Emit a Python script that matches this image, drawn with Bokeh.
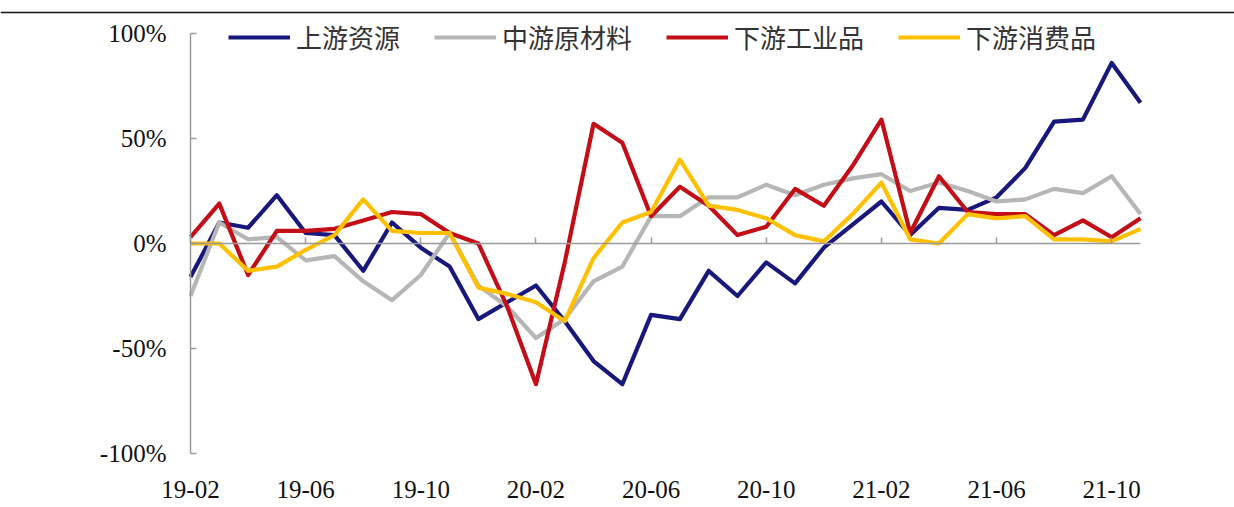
from bokeh.plotting import figure
from bokeh.models import (FixedTicker, LinearAxis, Range1d, Legend, LegendItem,
                          Span, CustomJSTickFormatter)
from bokeh.embed import file_html
from bokeh.resources import INLINE

months = ["19-02", "19-03", "19-04", "19-05", "19-06", "19-07", "19-08", "19-09",
          "19-10", "19-11", "19-12", "20-01", "20-02", "20-03", "20-04", "20-05",
          "20-06", "20-07", "20-08", "20-09", "20-10", "20-11", "20-12", "21-01",
          "21-02", "21-03", "21-04", "21-05", "21-06", "21-07", "21-08", "21-09",
          "21-10", "21-11"]

series_names = ["上游资源", "中游原材料", "下游工业品", "下游消费品"]

upstream = [-16, 10, 7.5, 23, 5, 4, -13, 10, -2, -11, -36, -28, -20, -37, -56, -67,
            -34, -36, -13, -25, -9, -19, -2, 9, 20, 4, 17, 16, 22, 36, 58, 59, 86, 67]
midstream = [-25, 10, 2, 3, -8, -6, -18, -27, -15, 5, -20, -30, -45, -36, -18, -11,
             13, 13, 22, 22, 28, 23, 28, 31, 33, 25, 29, 25, 20, 21, 26, 24, 32, 14]
down_ind = [3, 19, -15, 6, 6, 7, 11, 15, 14, 5, 0, -30, -67, -9, 57, 48,
            13, 27, 18, 4, 8, 26, 18, 37, 59, 5, 32, 15, 14, 14, 4, 11, 3, 12]
down_con = [0, 0, -13, -11, -3, 4, 21, 6, 5, 5, -21, -24, -28, -37, -7, 10,
            15, 40, 18, 16, 12, 4, 1, 14, 29, 2, 0, 14, 12, 13, 2, 2, 1, 7]

y_ticks = [-100, -50, 0, 50, 100]
y_tick_labels = ["-100%", "-50%", "0%", "50%", "100%"]

colors = ["#17177c", "#b6b6b6", "#c30d17", "#ffc000"]

idx = list(range(len(months)))
x_tick_idx = idx[::4]

# layout in canvas pixels (canvas == frame)
W, H = 1234, 507
X0_PX, X1_PX = 190, 1140      # first / last month
YT_PX, YB_PX = 33, 453        # 100% / -100%
n = len(months) - 1
ppx = (X1_PX - X0_PX) / n
ppy = (YB_PX - YT_PX) / 200.0
x_start = -X0_PX / ppx
x_end = n + (W - X1_PX) / ppx
y_end = 100 + YT_PX / ppy
y_start = -100 - (H - YB_PX) / ppy
rule_y = 100 + (YT_PX - 12) / ppy

p = figure(width=W, height=H, output_backend="svg", toolbar_location=None,
           x_range=Range1d(x_start, x_end), y_range=Range1d(y_start, y_end),
           min_border_left=0, min_border_right=0, min_border_top=0,
           min_border_bottom=0, x_axis_location=None, y_axis_location=None)
p.outline_line_color = None
p.background_fill_color = "white"
p.border_fill_color = "white"
p.xgrid.visible = False
p.ygrid.visible = False

font_num = "Liberation Serif"

# bottom label axis (at -100%)
xa = LinearAxis(ticker=FixedTicker(ticks=x_tick_idx), fixed_location=-100,
                major_label_overrides={i: months[i] for i in x_tick_idx})
xa.axis_line_color = None
xa.major_tick_line_color = None
xa.minor_tick_line_color = None
xa.major_label_text_font = font_num
xa.major_label_text_font_size = "25px"
xa.major_label_text_color = "#111111"
xa.major_label_standoff = 21
p.add_layout(xa, "below")

# zero line axis with upward ticks
za = LinearAxis(ticker=FixedTicker(ticks=x_tick_idx), fixed_location=0,
                bounds=(0, n), formatter=CustomJSTickFormatter(code="return ''"))
za.axis_line_color = "#9a9a9a"
za.axis_line_width = 1.5
za.major_tick_line_color = "#9a9a9a"
za.major_tick_line_width = 1.5
za.major_tick_in = 6
za.major_tick_out = 0
za.minor_tick_line_color = None
za.major_label_standoff = 0
p.add_layout(za, "below")

# y axis at first month
ya = LinearAxis(ticker=FixedTicker(ticks=y_ticks), fixed_location=0,
                bounds=(-100, 100),
                major_label_overrides={t: l for t, l in zip(y_ticks, y_tick_labels)})
ya.axis_line_color = "#9a9a9a"
ya.axis_line_width = 1.5
ya.major_tick_line_color = "#9a9a9a"
ya.major_tick_line_width = 1.5
ya.major_tick_in = 6
ya.major_tick_out = 0
ya.minor_tick_line_color = None
ya.major_label_text_font = font_num
ya.major_label_text_font_size = "25px"
ya.major_label_text_color = "#111111"
ya.major_label_standoff = 24
p.add_layout(ya, "left")

items = []
for name, vals, col in zip(series_names, [upstream, midstream, down_ind, down_con], colors):
    r = p.line(idx, vals, line_color=col, line_width=4.2, line_join="round")
    items.append(LegendItem(label=name, renderers=[r]))

legend = Legend(items=items, orientation="horizontal", location=(228, 452))
legend.label_text_font = "Noto Sans CJK SC"
legend.label_text_font_size = "26px"
legend.label_text_color = "#333333"
legend.glyph_width = 62
legend.glyph_height = 24
legend.label_standoff = 6
legend.spacing = 34
legend.padding = 0
legend.margin = 0
legend.border_line_color = None
legend.background_fill_alpha = 0
p.add_layout(legend)

# top rule line
p.add_layout(Span(location=rule_y, dimension="width", line_color="#111111",
                  line_width=1.5))

open("out.html", "w").write(file_html(p, INLINE))
